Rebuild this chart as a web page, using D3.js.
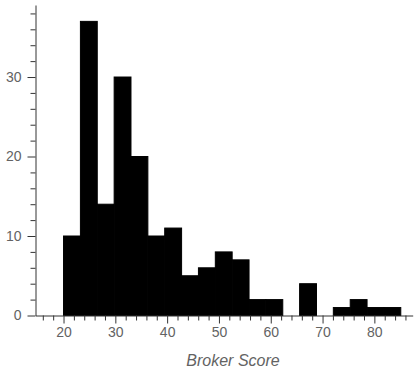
<!DOCTYPE html>
<html>
<head>
<meta charset="utf-8">
<script src="https://cdn.jsdelivr.net/npm/d3@7/dist/d3.min.js"></script>
<style>
  html, body { margin: 0; padding: 0; background: #fff; }
  svg { display: block; }
  .tick text { font-family: "Liberation Sans", Arial, Helvetica, sans-serif; }
</style>
</head>
<body>
<svg id="chart" width="417" height="370"></svg>
<script>
// ---- data ----
const binEdges = [20, 23.26, 26.51, 29.77, 33.02, 36.28, 39.53, 42.79, 46.04, 49.3,
                  52.55, 55.81, 59.06, 62.32, 65.57, 68.83, 72.08, 75.34, 78.59, 81.85, 85.1];
const counts   = [10, 37, 14, 30, 20, 10, 11, 5, 6, 8, 7, 2, 2, 0, 4, 0, 1, 2, 1, 1];
const xMajorTicks = [20, 30, 40, 50, 60, 70, 80];
const xMinorTicks = [16, 18, 22, 24, 26, 28, 32, 34, 36, 38, 42, 44, 46, 48, 52, 54, 56, 58, 62, 64, 66, 68, 72, 74, 76, 78, 82, 84, 86];
const yMajorTicks = [0, 10, 20, 30];
const yMinorTicks = [2, 4, 6, 8, 12, 14, 16, 18, 22, 24, 26, 28, 32, 34, 36, 38];
const xDomain = [14.59, 87.4];
const yDomain = [0, 39.06];
const xLabel = "Broker Score";

// ---- layout ----
const svg = d3.select("#chart");
const mLeft = 35.5, mRight = 412.7, mTop = 5, mBottom = 315.5;
const x = d3.scaleLinear().domain(xDomain).range([mLeft, mRight]);
const y = d3.scaleLinear().domain(yDomain).range([mBottom, mTop]);

const bins = counts.map((c, i) => ({ x0: binEdges[i], x1: binEdges[i + 1], count: c }));

svg.append("g").selectAll("rect")
  .data(bins.filter(d => d.count > 0))
  .join("rect")
  .attr("x", d => x(d.x0))
  .attr("width", d => x(d.x1) - x(d.x0))
  .attr("y", d => y(d.count))
  .attr("height", d => y(0) - y(d.count))
  .attr("fill", "#000")
  .attr("stroke", "#000")
  .attr("stroke-width", 1);

const axisColor = "#333";
const labelColor = "#636363";

function styleAxis(g) {
  g.select(".domain").attr("stroke", axisColor);
  g.selectAll(".tick line").attr("stroke", axisColor);
  g.selectAll(".tick text").attr("fill", labelColor).style("font-size", "14px");
}

// x minor
svg.append("g").attr("transform", `translate(0,${mBottom})`)
  .call(d3.axisBottom(x).tickValues(xMinorTicks).tickSize(5).tickSizeOuter(0).tickFormat(""))
  .call(styleAxis);
// x major
svg.append("g").attr("transform", `translate(0,${mBottom})`)
  .call(d3.axisBottom(x).tickValues(xMajorTicks).tickSize(8).tickSizeOuter(0).tickPadding(4))
  .call(styleAxis)
  .call(g => g.select(".domain").remove());

// y minor
svg.append("g").attr("transform", `translate(${mLeft},0)`)
  .call(d3.axisLeft(y).tickValues(yMinorTicks).tickSize(5).tickSizeOuter(0).tickFormat(""))
  .call(styleAxis);
// y major
svg.append("g").attr("transform", `translate(${mLeft},0)`)
  .call(d3.axisLeft(y).tickValues(yMajorTicks).tickSize(8).tickSizeOuter(0).tickPadding(6))
  .call(styleAxis)
  .call(g => g.select(".domain").remove());

svg.append("text")
  .attr("x", 233)
  .attr("y", 365.5)
  .attr("text-anchor", "middle")
  .attr("fill", labelColor)
  .style("font-family", "'Liberation Sans', Arial, Helvetica, sans-serif")
  .style("font-style", "italic")
  .style("font-size", "16px")
  .text(xLabel);
</script>
</body>
</html>
